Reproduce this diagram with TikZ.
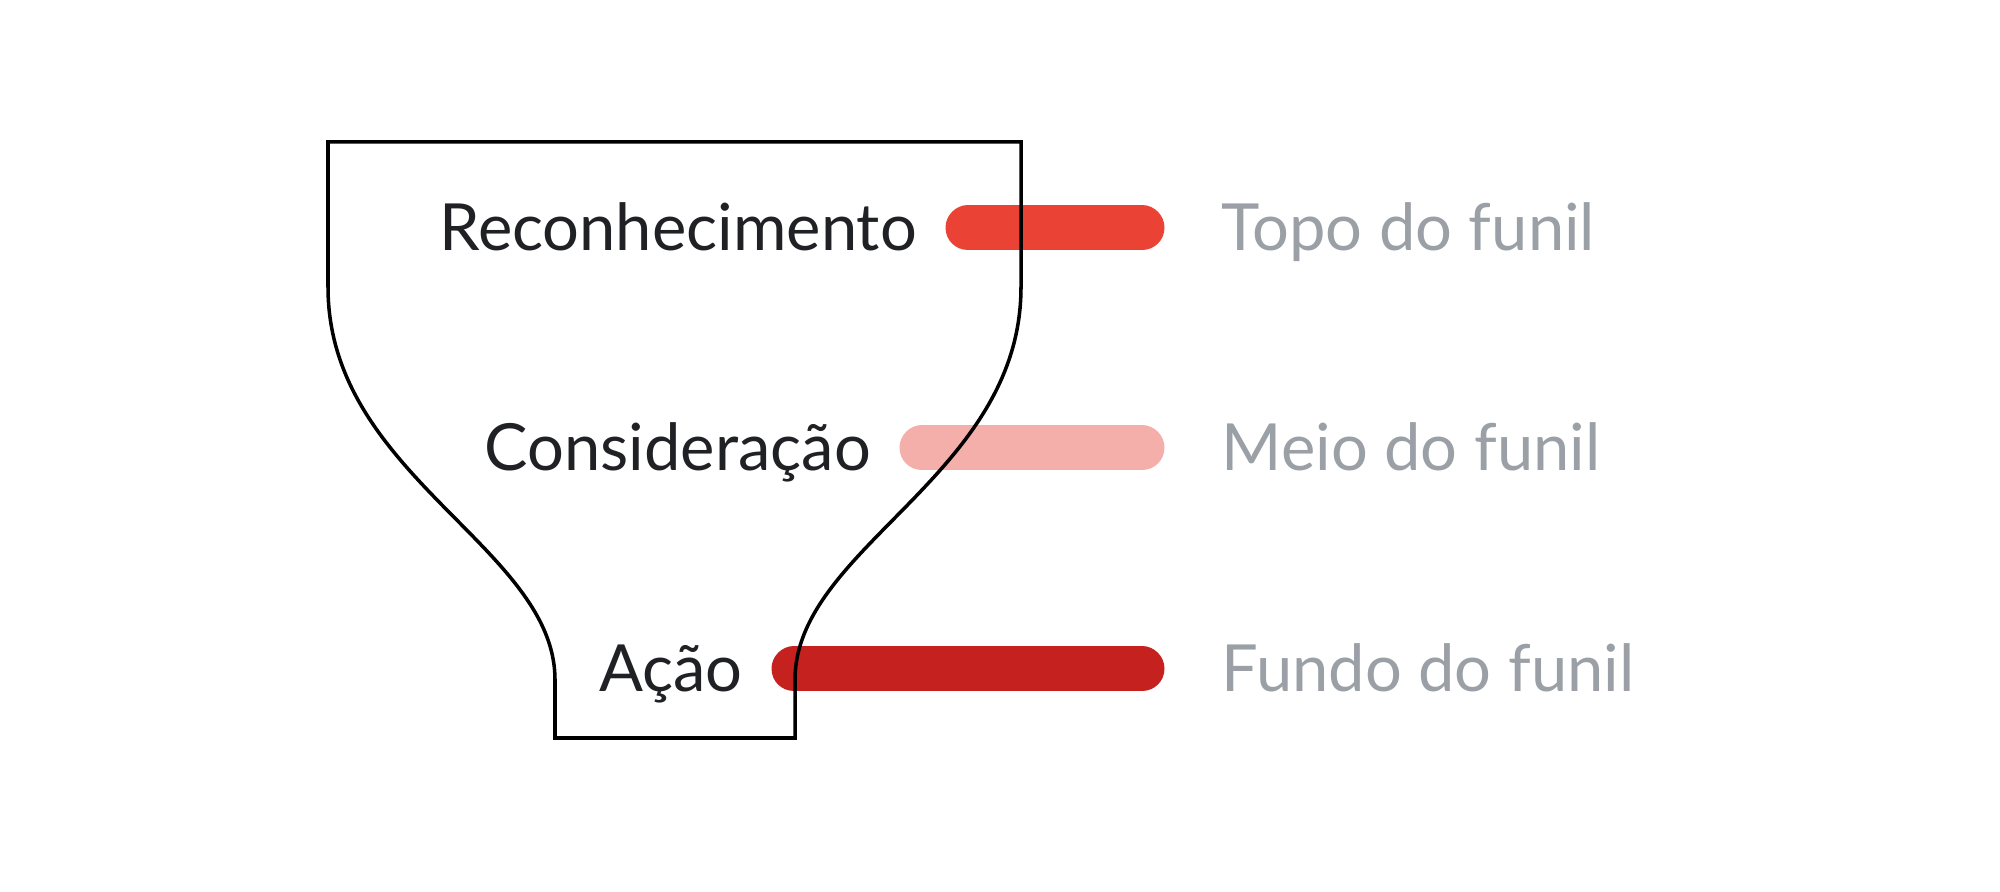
\documentclass[tikz,border=0pt]{standalone}
\usepackage{fontspec}
\setmainfont{Lato}
\definecolor{vtopo}{HTML}{EA4335}
\definecolor{vmeio}{HTML}{F4AFAB}
\definecolor{vfundo}{HTML}{C5221F}
\definecolor{escuro}{HTML}{202124}
\definecolor{cinza}{HTML}{9AA0A6}
\begin{document}
\begin{tikzpicture}[declare function={xf=11.42;h=0.45;},font=\fontsize{18.5}{22}\selectfont]
				\useasboundingbox (0,0) rectangle (20,8.92);
				\path (3.28,7.50) coordinate (A)
				(10.21,7.50) coordinate (B)
				(10.21,6.05) coordinate (B_1)
				(7.95,2.12) coordinate (C_1)
				(7.95,1.54) coordinate (C)
				(5.55,1.54) coordinate (D)
				(5.55,2.12) coordinate (D_1)
				(3.28,6.05) coordinate (A_1);
				\foreach \y/\x/\cor/\etapa/\nivel/\n in {6.64/9.68/vtopo/Reconhecimento/Topo do funil/t,
					4.44/9.22/vmeio/Consideração/Meio do funil/m, 2.23/7.94/vfundo/Ação/Fundo do funil/f}{
					\draw[line width=h*1cm,line cap=round,\cor] (\x,\y) coordinate (\n_a)--(xf,\y) coordinate (\n_b);
					\node[escuro,inner sep=0pt,anchor=base east] (\n_e) at ({\x-h/2-0.28},{\y-0.23}) {\etapa};
					\node[cinza,inner sep=0pt,anchor=base west] (\n_n) at (12.21,{\y-0.23}) {\nivel};
				}
				\draw[line width=1pt,line join=miter] (A)--(B)--(B_1) .. controls (10.21,4.16) and (7.95,3.45) .. (C_1)--(C)--(D)--(D_1)
				.. controls (5.55,3.45) and (3.28,4.16) .. (A_1)--cycle;
			\end{tikzpicture}
\end{document}
